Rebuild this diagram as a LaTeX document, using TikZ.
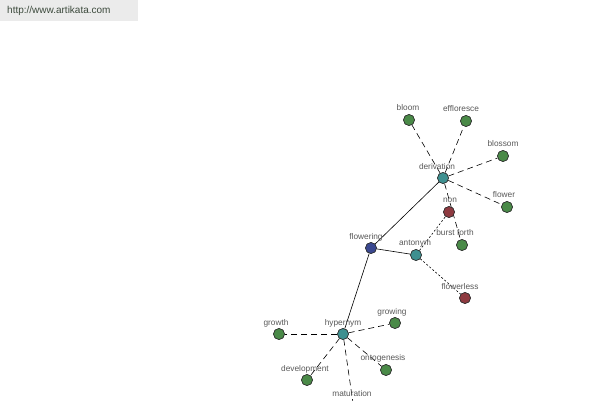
\documentclass[tikz,border=0pt]{standalone}
\usepackage{fontspec}
\setmainfont{Liberation Sans}
\definecolor{wmtext}{HTML}{3C4A3C}
\definecolor{ngreen}{HTML}{4A8A48}
\definecolor{nteal}{HTML}{3E9090}
\definecolor{nblue}{HTML}{3A4890}
\definecolor{nred}{HTML}{8E3A40}
\begin{document}
\begin{tikzpicture}[x=1pt,y=-1pt,
  vtx/.style={circle,draw=black!80,line width=0.6pt,inner sep=0pt,minimum size=11pt},
  gn/.style={vtx,fill=ngreen},
  tl/.style={vtx,fill=nteal},
  bl/.style={vtx,fill=nblue},
  rd/.style={vtx,fill=nred},
  lbl/.style={font=\fontsize{8.3}{9}\selectfont,text=black!65,inner sep=0pt},
  solidedge/.style={black,line width=0.6pt},
  dashedge/.style={black,line width=0.6pt,dash pattern=on 6pt off 4pt},
  dotedge/.style={black,line width=0.6pt,dash pattern=on 2pt off 2pt}]
\clip (0,0) rectangle (600,400);
\fill[white] (0,0) rectangle (600,400);
% watermark
\fill[black!8] (0,0) rectangle (138,21);
\node[lbl,font=\fontsize{10}{11}\selectfont,text=wmtext,anchor=west] (wm) at (7,11) {http://www.artikata.com};
% nodes
\node[bl] (flowering) at (371,248) {};
\node[tl] (derivation) at (443,178) {};
\node[tl] (antonym) at (416,255) {};
\node[tl] (hypernym) at (343,334) {};
\node[gn] (bloom) at (409,120) {};
\node[gn] (effloresce) at (466,121) {};
\node[gn] (blossom) at (503,156) {};
\node[gn] (flower) at (507,207) {};
\node[rd] (non) at (449,212) {};
\node[gn] (burst) at (462,245) {};
\node[rd] (flowerless) at (465,298) {};
\node[gn] (growth) at (279,334) {};
\node[gn] (growing) at (395,323) {};
\node[gn] (development) at (307,380) {};
\node[gn] (ontogenesis) at (386,370) {};
\node[gn] (maturation) at (354,410) {};
% edges
\draw[solidedge] (flowering) -- (derivation);
\draw[solidedge] (flowering) -- (antonym);
\draw[solidedge] (flowering) -- (hypernym);
\draw[dashedge] (derivation) -- (bloom);
\draw[dashedge] (derivation) -- (effloresce);
\draw[dashedge] (derivation) -- (blossom);
\draw[dashedge] (derivation) -- (flower);
\draw[dashedge] (derivation) -- (burst);
\draw[dotedge] (antonym) -- (non);
\draw[dotedge] (antonym) -- (flowerless);
\draw[dashedge] (hypernym) -- (growth);
\draw[dashedge] (hypernym) -- (growing);
\draw[dashedge] (hypernym) -- (development);
\draw[dashedge] (hypernym) -- (ontogenesis);
\draw[dashedge] (hypernym) -- (maturation);
% redraw nodes on top of the edges
\foreach \n/\s in {flowering/bl,derivation/tl,antonym/tl,hypernym/tl,bloom/gn,effloresce/gn,blossom/gn,flower/gn,non/rd,burst/gn,flowerless/rd,growth/gn,growing/gn,development/gn,ontogenesis/gn,maturation/gn}
  \node[\s] at (\n) {};
% labels
\node[lbl] (lbloom) at (408,108) {bloom};
\node[lbl] (leffl) at (461,109) {effloresce};
\node[lbl] (lblossom) at (503,144) {blossom};
\node[lbl] (lderiv) at (437,167) {derivation};
\node[lbl] (lflower) at (504,195) {flower};
\node[lbl] (lnon) at (450,200) {non};
\node[lbl] (lburst) at (455,233) {burst forth};
\node[lbl] (lflowering) at (366,237) {flowering};
\node[lbl] (lanton) at (415,244) {antonym};
\node[lbl] (lflowerless) at (460,287) {flowerless};
\node[lbl] (lgrowth) at (276,323) {growth};
\node[lbl] (lhyper) at (343,323) {hypernym};
\node[lbl] (lgrowing) at (392,312) {growing};
\node[lbl] (ldev) at (305,369) {development};
\node[lbl] (lonto) at (383,358) {ontogenesis};
\node[lbl] (lmat) at (352,394) {maturation};
\end{tikzpicture}
\end{document}
